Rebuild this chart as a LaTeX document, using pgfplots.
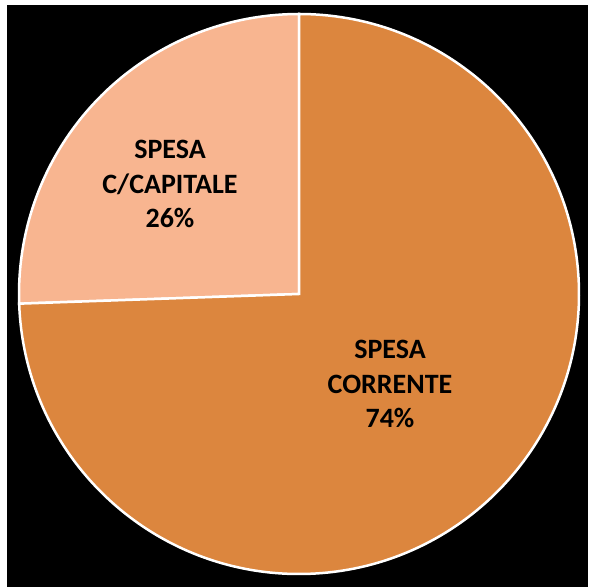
\documentclass[border=0pt]{standalone}
\usepackage{pgfplots}
\pgfplotsset{compat=1.18}
\usepackage{pgfplotstable}
\usepackage{fontspec}
\setmainfont{Carlito}
\definecolor{capitale}{HTML}{F8B590}
\definecolor{corrente}{HTML}{DC863E}
\pgfplotstableread{
label value
Capitale 25.55
Corrente 74.45
}\piedata
\begin{document}
\begin{tikzpicture}
\pgfplotstablegetelem{0}{value}\of\piedata \let\vA\pgfplotsretval
\pgfplotstablegetelem{1}{value}\of\piedata \let\vB\pgfplotsretval
\pgfmathsetmacro{\aStart}{90}
\pgfmathsetmacro{\aMid}{90+3.6*\vA}
\pgfmathsetmacro{\aEnd}{\aMid+3.6*\vB}
\begin{axis}[
  scale only axis, width=589pt, height=587pt,
  xmin=0, xmax=589, ymin=0, ymax=587,
  hide axis, clip=false,
  /pgf/number format/assume math mode=true,
]
\fill[white] (axis cs:0,0) rectangle (axis cs:589,587);
\fill[black] (axis cs:7,0) rectangle (axis cs:588,582);
\draw[white, line width=2.5pt, fill=capitale]
  (axis cs:299,293) -- ++(\aStart:280pt) arc[start angle=\aStart, end angle=\aMid, radius=280pt] -- cycle;
\draw[white, line width=2.5pt, fill=corrente]
  (axis cs:299,293) -- ++(\aMid:280pt) arc[start angle=\aMid, end angle=\aEnd, radius=280pt] -- cycle;
\node[align=center, font=\bfseries\fontsize{28}{34.5}\selectfont] at (axis cs:170,403) {SPESA\\C/CAPITALE\\\pgfmathprintnumber[fixed,precision=0,assume math mode=true]{\vA}\%};
\node[align=center, font=\bfseries\fontsize{28}{34.5}\selectfont] at (axis cs:390,203) {SPESA\\CORRENTE\\\pgfmathprintnumber[fixed,precision=0,assume math mode=true]{\vB}\%};
\end{axis}
\end{tikzpicture}
\end{document}
